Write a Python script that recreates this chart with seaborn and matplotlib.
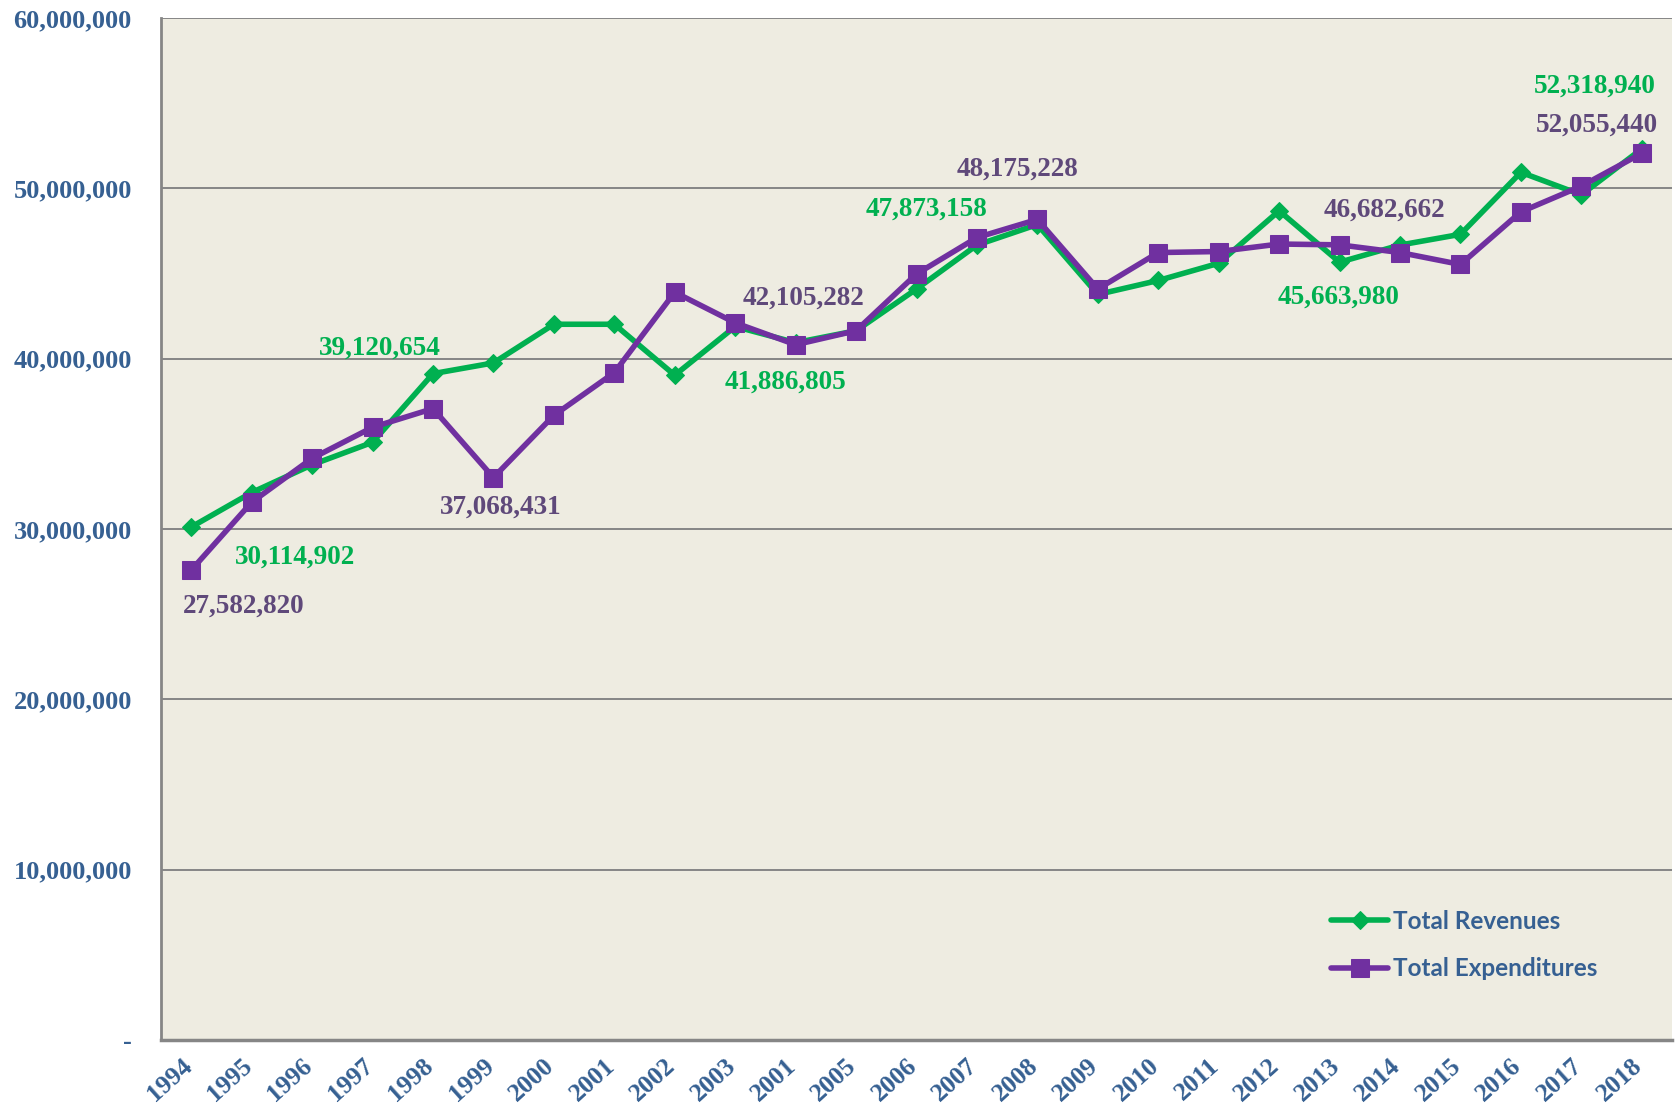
import matplotlib
matplotlib.use("Agg")
import matplotlib.pyplot as plt
import matplotlib.transforms as mtransforms
import seaborn as sns
import pandas as pd

# categories (actual years) and the labels printed on the axis (original shows "2001" twice)
years = [1994, 1995, 1996, 1997, 1998, 1999, 2000, 2001, 2002, 2003, 2004, 2005, 2006,
         2007, 2008, 2009, 2010, 2011, 2012, 2013, 2014, 2015, 2016, 2017, 2018]
year_labels = ["1994", "1995", "1996", "1997", "1998", "1999", "2000", "2001", "2002",
               "2003", "2001", "2005", "2006", "2007", "2008", "2009", "2010", "2011",
               "2012", "2013", "2014", "2015", "2016", "2017", "2018"]

revenues = [30114902, 32140000, 33770000, 35090000, 39120654, 39750000, 42020000,
            42020000, 39030000, 41886805, 40940000, 41640000, 44090000, 46670000,
            47873158, 43770000, 44590000, 45600000, 48680000, 45663980, 46670000,
            47300000, 50940000, 49620000, 52318940]
expenditures = [27582820, 31570000, 34150000, 35970000, 37068431, 33020000, 36670000,
                39180000, 43900000, 42105282, 40820000, 41640000, 44970000, 47110000,
                48175228, 44090000, 46230000, 46290000, 46730000, 46682662, 46230000,
                45530000, 48620000, 50130000, 52055440]

# which years get a value label
rev_labeled = [1994, 1998, 2003, 2008, 2013, 2018]
exp_labeled = [1994, 1998, 2003, 2008, 2013, 2018]

GREEN = "#00B050"
PURPLE = "#7030A0"
PURPLE_TXT = "#5F497A"
BLUE_TXT = "#366092"
GRID = "#868686"

df = pd.DataFrame({"year": years, "rev": revenues, "exp": expenditures})

sns.set_style("white")
plt.rcParams["font.family"] = ["Liberation Serif", "DejaVu Serif"]

fig = plt.figure(figsize=(16.79, 11.13), dpi=100)
ax = fig.add_axes([161 / 1679, 1 - 1040 / 1113, (1672 - 161) / 1679, (1040 - 18) / 1113])
ax.set_facecolor("#EEECE1")

sns.lineplot(data=df, x="year", y="rev", ax=ax, color=GREEN, lw=4, marker="D",
             markersize=9, markeredgecolor=GREEN, label="Total Revenues", zorder=3)
sns.lineplot(data=df, x="year", y="exp", ax=ax, color=PURPLE, lw=4, marker="s",
             markersize=13, markeredgecolor=PURPLE, label="Total Expenditures", zorder=4)

ax.set_xlim(years[0] - 0.5, years[-1] + 0.5)
ax.set_ylim(0, 60000000)
ax.set_xlabel("")
ax.set_ylabel("")

# y axis
yt = [0, 10000000, 20000000, 30000000, 40000000, 50000000, 60000000]
ax.set_yticks(yt)
ax.set_yticklabels(["-"] + [f"{v:,}" for v in yt[1:]])
ax.tick_params(axis="y", length=6, width=1.2, color=GRID, pad=15, labelsize=19,
               labelcolor=BLUE_TXT)
for t in ax.get_yticklabels():
    t.set_fontweight("bold")
ax.yaxis.grid(True, color=GRID, lw=1.4)
ax.set_axisbelow(True)

# x axis: labels at category centers, ticks at category boundaries
ax.set_xticks(years)
ax.set_xticklabels(year_labels, rotation=42, ha="right", va="top",
                   fontsize=18.5, fontweight="bold", color=BLUE_TXT)
ax.tick_params(axis="x", which="major", length=0, pad=10)
shift = mtransforms.ScaledTranslation(0.05, 0, fig.dpi_scale_trans)
for t in ax.get_xticklabels():
    t.set_transform(t.get_transform() + shift)
ax.set_xticks([y - 0.5 for y in years] + [years[-1] + 0.5], minor=True)
ax.tick_params(axis="x", which="minor", length=6, width=1.2, color=GRID, direction="out")

for s in ["top", "right"]:
    ax.spines[s].set_visible(False)
ax.spines["left"].set_color(GRID)
ax.spines["left"].set_linewidth(2)
ax.spines["bottom"].set_color(GRID)
ax.spines["bottom"].set_linewidth(2.5)

# value labels (offsets in points from the point)
rev_offsets = {1994: (75, -22), 1998: (-38, 18), 2003: (36, -40),
               2008: (-80, 11), 2013: (-1, -25), 2018: (-34, 45)}
exp_offsets = {1994: (38, -26), 1998: (49, -71), 2003: (49, 18),
               2008: (-14, 36), 2013: (32, 25), 2018: (-32, 20)}
for yr in rev_labeled:
    v = revenues[years.index(yr)]
    ax.annotate(f"{v:,}", (yr, v), xytext=rev_offsets[yr], textcoords="offset points",
                ha="center", va="center", fontsize=19.5, fontweight="bold", color=GREEN)
for yr in exp_labeled:
    v = expenditures[years.index(yr)]
    ax.annotate(f"{v:,}", (yr, v), xytext=exp_offsets[yr], textcoords="offset points",
                ha="center", va="center", fontsize=19.5, fontweight="bold", color=PURPLE_TXT)

leg = ax.legend(loc="upper left", bbox_to_anchor=(1331 / 1679, 1 - 910 / 1113),
                bbox_transform=fig.transFigure, frameon=False, borderpad=0,
                borderaxespad=0, handlelength=2.35, handletextpad=0.2, labelspacing=1.0,
                prop={"family": "Lato", "weight": "bold", "size": 17.5})
for t in leg.get_texts():
    t.set_color(BLUE_TXT)

fig.savefig("out.png", dpi=100)
